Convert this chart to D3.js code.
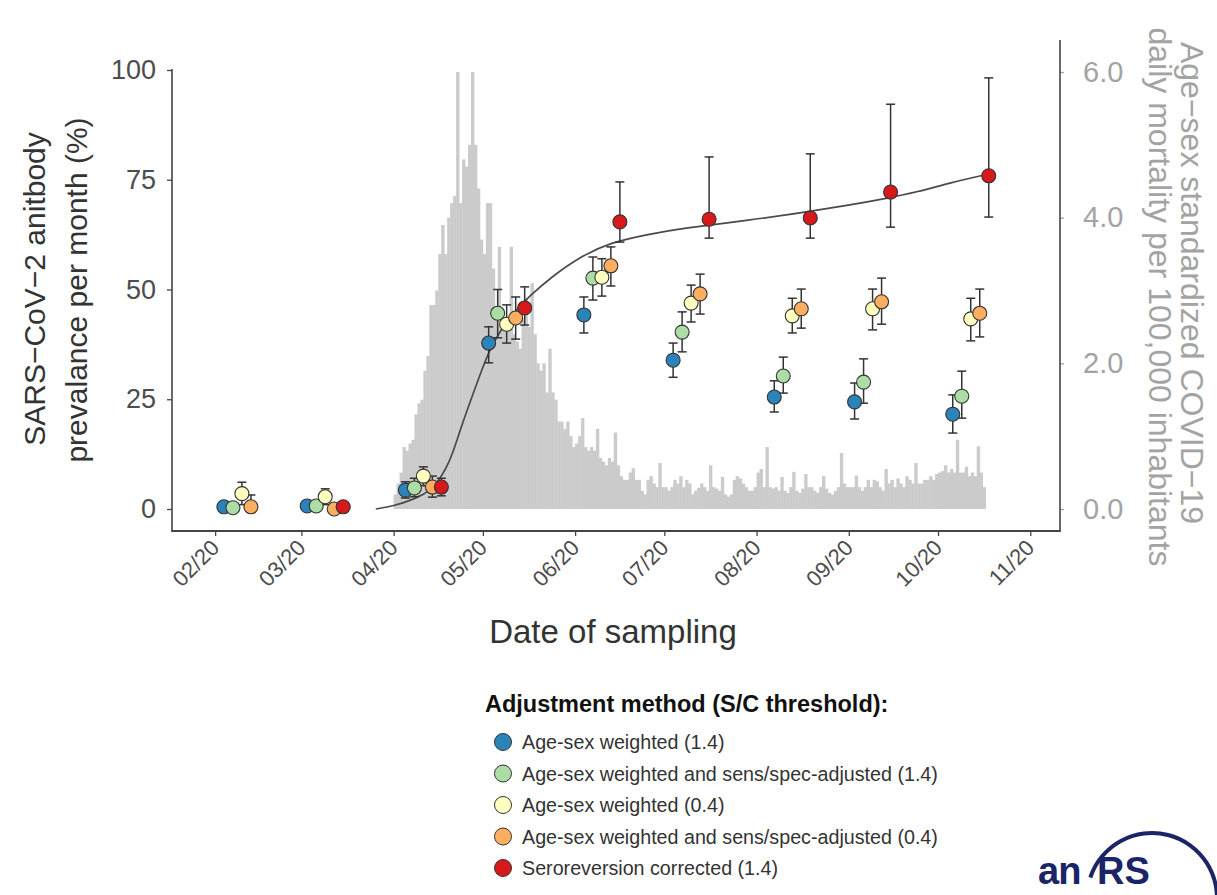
<!DOCTYPE html>
<html>
<head>
<meta charset="utf-8">
<script src="https://cdn.jsdelivr.net/npm/d3@7"></script>
<style>
  body { margin: 0; background: #ffffff; }
  #chart { width: 1217px; height: 895px; }
  text { font-family: "Liberation Sans", Arial, Helvetica, sans-serif; }
</style>
</head>
<body>
<div id="chart"></div>
<script>

// ---- data ----

const seriesNames = [
    "Age-sex weighted (1.4)",
    "Age-sex weighted and sens/spec-adjusted (1.4)",
    "Age-sex weighted (0.4)",
    "Age-sex weighted and sens/spec-adjusted (0.4)",
    "Seroreversion corrected (1.4)"
];

const seriesColors = ["#2b83ba", "#abdda4", "#ffffbf", "#fdae61", "#d7191c"];

// sampling months (centre of each group)
const sampleDates = ["2020-02-10", "2020-03-09", "2020-04-11", "2020-05-09", "2020-06-10",
                     "2020-07-10", "2020-08-13", "2020-09-09", "2020-10-12"];

// prevalence (%) and 95% interval, one array per method
const weighted14      = [0.5, 0.7, 4.3, 37.8, 44.2, 33.9, 25.5, 24.4, 21.6];
const weighted14Low   = [0.0, 0.0, 2.5, 33.3, 40.1, 30.0, 22.1, 20.5, 17.3];
const weighted14High  = [1.5, 1.6, 6.2, 41.5, 48.3, 37.8, 29.2, 28.7, 26.0];

const adjusted14      = [0.3, 0.7, 4.8, 44.6, 52.6, 40.3, 30.3, 28.9, 25.7];
const adjusted14Low   = [0.0, 0.0, 2.8, 39.0, 47.6, 35.8, 26.4, 24.1, 20.7];
const adjusted14High  = [1.2, 1.6, 7.0, 50.0, 57.4, 44.9, 34.6, 34.2, 31.4];

const weighted04      = [3.5, 2.8, 7.5, 42.1, 52.8, 46.9, 44.0, 45.6, 43.3];
const weighted04Low   = [1.0, 1.0, 5.3, 37.8, 48.5, 42.6, 40.1, 40.8, 38.3];
const weighted04High  = [6.1, 4.6, 9.6, 46.5, 57.0, 51.0, 48.0, 50.1, 48.0];

const adjusted04      = [0.5, 0.0, 5.0, 43.5, 55.4, 49.0, 45.6, 47.2, 44.6];
const adjusted04Low   = [0.0, 0.0, 2.7, 38.7, 50.8, 44.4, 41.2, 42.1, 39.2];
const adjusted04High  = [3.2, 1.2, 7.5, 48.3, 59.7, 53.5, 50.1, 52.6, 50.1];

const seroreversion     = [null, 0.5, 5.0, 45.8, 65.4, 66.0, 66.3, 72.2, 75.9];
const seroreversionLow  = [null, 0.0, 3.0, 41.9, 60.8, 61.7, 61.7, 64.2, 66.5];
const seroreversionHigh = [null, 1.5, 7.0, 50.6, 74.5, 80.2, 80.9, 92.2, 98.2];

// modelled cumulative seroprevalence curve
const curveDates = ["2020-03-26", "2020-04-01", "2020-04-07", "2020-04-11", "2020-04-14",
                    "2020-04-20", "2020-04-23", "2020-04-30", "2020-05-04", "2020-05-11",
                    "2020-05-17", "2020-05-24", "2020-06-02", "2020-06-13", "2020-06-26",
                    "2020-07-06", "2020-07-30", "2020-08-18", "2020-09-01", "2020-09-14",
                    "2020-09-24", "2020-10-05", "2020-10-18"];
const curveValues = [0, 0.7, 2.0, 3.4, 4.3, 10.5, 17.5, 30.5, 37.8, 44.6,
                     48.7, 52.8, 57.2, 60.8, 62.6, 63.9, 65.8, 67.7, 69.2, 70.8,
                     72.2, 74.3, 76.3];

// daily age-sex standardized COVID-19 mortality per 100,000, from 1 April 2020
const mortalityStart = "2020-04-01";
const mortality = [
    0.2, 0.35, 0.5, 0.85, 0.8, 0.9, 0.95, 1.3, 1.45, 1.5,
    1.9, 2.1, 2.8, 2.8, 3.0, 3.5, 3.9, 3.5, 4.0, 4.2,
    4.3, 6.0, 4.2, 4.8, 4.7, 5.0, 6.0, 5.0, 4.4, 3.7,
    3.5, 4.2, 4.2, 3.3, 2.7, 3.6, 2.6, 2.5, 2.5, 3.6,
    2.4, 2.3, 2.2, 2.6, 2.9, 2.5, 3.1, 2.4, 2.0, 1.9,
    2.0, 1.6, 2.2, 1.6, 1.5, 1.2, 1.2, 1.1, 1.2, 1.0,
    0.85, 0.9, 1.0, 1.25, 0.85, 0.8, 0.85, 0.8, 1.1, 0.7,
    0.65, 0.6, 0.7, 0.65, 1.05, 0.6, 0.45, 0.4, 0.4, 0.5,
    0.56, 0.4, 0.4, 0.25, 0.2, 0.4, 0.45, 0.35, 0.3, 0.63,
    0.3, 0.3, 0.25, 0.3, 0.4, 0.35, 0.45, 0.3, 0.4, 0.35,
    0.2, 0.25, 0.29, 0.35, 0.3, 0.25, 0.6, 0.3, 0.28, 0.25,
    0.44, 0.2, 0.17, 0.2, 0.4, 0.45, 0.42, 0.35, 0.3, 0.25,
    0.25, 0.3, 0.5, 0.55, 0.3, 0.85, 0.3, 0.28, 0.3, 0.25,
    0.44, 0.25, 0.22, 0.3, 0.51, 0.25, 0.22, 0.28, 0.48, 0.3,
    0.3, 0.25, 0.22, 0.3, 0.45, 0.28, 0.22, 0.2, 0.25, 0.3,
    0.77, 0.35, 0.3, 0.3, 0.3, 0.46, 0.3, 0.25, 0.3, 0.4,
    0.3, 0.4, 0.38, 0.3, 0.25, 0.55, 0.35, 0.4, 0.3, 0.42,
    0.35, 0.3, 0.45, 0.4, 0.35, 0.63, 0.35, 0.35, 0.4, 0.4,
    0.45, 0.4, 0.48, 0.5, 0.52, 0.6, 0.5, 0.55, 0.5, 0.95,
    0.5, 0.5, 0.58, 0.45, 0.5, 0.45, 0.86, 0.5, 0.3
];

const monthTicks = ["2020-02-01", "2020-03-01", "2020-04-01", "2020-05-01", "2020-06-01",
                    "2020-07-01", "2020-08-01", "2020-09-01", "2020-10-01", "2020-11-01"];
const leftTicks = [0, 25, 50, 75, 100];
const rightTicks = [0, 2, 4, 6];


//1. SVG CANVAS

const width = 1217;
const height = 895;

const svg = d3.select("#chart")
    .append("svg")
    .attr("width", width)
    .attr("height", height);

const parse = d3.timeParse("%Y-%m-%d");

const panel = { left: 172, right: 1060, bottom: 531, rightTop: 40 };


//2. SCALES

const xScale = d3.scaleTime()
    .domain([new Date(2020, 0, 17, 12), new Date(2020, 10, 11)])
    .range([panel.left, panel.right]);

const yScale = d3.scaleLinear()
    .domain([0, 100])
    .range([509, 70]);

const yRight = d3.scaleLinear()
    .domain([0, 6])
    .range([509, 72]);

const dodge = d3.scalePoint()
    .domain(seriesNames)
    .range([-18, 18]);


//3. MORTALITY BARS (right axis)

const start = parse(mortalityStart);
const barData = mortality.map(function(v, i) {
    return { date: d3.timeDay.offset(start, i), value: v };
});

svg.append("g")
    .selectAll("rect")
    .data(barData)
    .enter()
    .append("rect")
        .attr("x", function(d) { return xScale(d.date); })
        .attr("y", function(d) { return yRight(d.value); })
        .attr("width", function(d) { return xScale(d3.timeDay.offset(d.date, 1)) - xScale(d.date) + 0.4; })
        .attr("height", function(d) { return yRight(0) - yRight(d.value); })
        .attr("fill", "#cbcbcb");


//4. AXES

const axisColor = "#444444";
const rightColor = "#a3a3a3";

const yAxis = svg.append("g")
    .attr("transform", `translate(${panel.left},0)`)
    .call(d3.axisLeft(yScale).tickValues(leftTicks).tickSize(5).tickPadding(11));

yAxis.select(".domain").remove();
yAxis.selectAll(".tick line").attr("stroke", axisColor).attr("stroke-width", 1.3);
yAxis.selectAll(".tick text")
    .attr("fill", "#4d4d4d")
    .style("font-size", "27px");

const rAxis = svg.append("g")
    .attr("transform", `translate(${panel.right},0)`)
    .call(d3.axisRight(yRight).tickValues(rightTicks).tickFormat(d3.format(".1f")).tickSize(4).tickPadding(19));

rAxis.select(".domain").remove();
rAxis.selectAll(".tick line").attr("stroke", rightColor).attr("stroke-width", 1.3);
rAxis.selectAll(".tick text")
    .attr("fill", rightColor)
    .style("font-size", "29px");

const xAxis = svg.append("g")
    .attr("transform", `translate(0,${panel.bottom})`)
    .call(d3.axisBottom(xScale)
        .tickValues(monthTicks.map(parse))
        .tickFormat(d3.timeFormat("%m/%y"))
        .tickSize(5));

xAxis.select(".domain").remove();
xAxis.selectAll(".tick line").attr("stroke", axisColor).attr("stroke-width", 1.3);
xAxis.selectAll(".tick text")
    .attr("fill", "#4d4d4d")
    .style("font-size", "22px")
    .attr("text-anchor", "end")
    .attr("dy", null)
    .attr("y", null)
    .attr("transform", "translate(5,18) rotate(-45)");

// axis lines
svg.append("line")
    .attr("x1", panel.left).attr("x2", panel.left)
    .attr("y1", yScale(100) - 1).attr("y2", panel.bottom)
    .attr("stroke", axisColor).attr("stroke-width", 1.6);

svg.append("line")
    .attr("x1", panel.right).attr("x2", panel.right)
    .attr("y1", panel.rightTop).attr("y2", panel.bottom)
    .attr("stroke", axisColor).attr("stroke-width", 1.6);

svg.append("line")
    .attr("x1", panel.left - 0.8).attr("x2", panel.right + 0.8)
    .attr("y1", panel.bottom).attr("y2", panel.bottom)
    .attr("stroke", axisColor).attr("stroke-width", 2);


//5. CURVE

const curveData = curveDates.map(function(d, i) {
    return { date: parse(d), value: curveValues[i] };
});

const line = d3.line()
    .x(function(d) { return xScale(d.date); })
    .y(function(d) { return yScale(d.value); })
    .curve(d3.curveBasis);

svg.append("path")
    .datum(curveData)
    .attr("d", line)
    .attr("fill", "none")
    .attr("stroke", "#4a4a4a")
    .attr("stroke-width", 1.7);


//6. POINTS WITH ERROR BARS

const series = [
    [weighted14, weighted14Low, weighted14High],
    [adjusted14, adjusted14Low, adjusted14High],
    [weighted04, weighted04Low, weighted04High],
    [adjusted04, adjusted04Low, adjusted04High],
    [seroreversion, seroreversionLow, seroreversionHigh]
];

let points = [];
series.forEach(function(s, si) {
    sampleDates.forEach(function(d, i) {
        if (s[0][i] === null) return;
        points.push({
            name: seriesNames[si],
            color: seriesColors[si],
            date: parse(d),
            value: s[0][i],
            low: s[1][i],
            high: s[2][i]
        });
    });
});

function px(d) { return xScale(d.date) + dodge(d.name); }

const errGroup = svg.append("g")
    .attr("stroke", "#333333")
    .attr("stroke-width", 1.5);

points.forEach(function(d) {
    const g = errGroup.append("g");
    g.append("line")
        .attr("x1", px(d)).attr("x2", px(d))
        .attr("y1", yScale(d.high)).attr("y2", yScale(d.low));
    g.append("line")
        .attr("x1", px(d) - 4.5).attr("x2", px(d) + 4.5)
        .attr("y1", yScale(d.high)).attr("y2", yScale(d.high));
    g.append("line")
        .attr("x1", px(d) - 4.5).attr("x2", px(d) + 4.5)
        .attr("y1", yScale(d.low)).attr("y2", yScale(d.low));
});

svg.append("g")
    .selectAll("circle")
    .data(points)
    .enter()
    .append("circle")
        .attr("cx", px)
        .attr("cy", function(d) { return yScale(d.value); })
        .attr("r", 7)
        .attr("fill", function(d) { return d.color; })
        .attr("stroke", "#333333")
        .attr("stroke-width", 1.1);


//7. AXIS TITLES

svg.append("text")
    .attr("transform", "rotate(-90)")
    .attr("x", -289)
    .attr("y", 45)
    .attr("text-anchor", "middle")
    .attr("fill", "#333333")
    .style("font-size", "30px")
    .text("SARS\u2212CoV\u22122 anitbody");

svg.append("text")
    .attr("transform", "rotate(-90)")
    .attr("x", -290)
    .attr("y", 87)
    .attr("text-anchor", "middle")
    .attr("fill", "#333333")
    .style("font-size", "30px")
    .text("prevalance per month (%)");

svg.append("text")
    .attr("transform", "rotate(90)")
    .attr("x", 283)
    .attr("y", -1181)
    .attr("text-anchor", "middle")
    .attr("fill", rightColor)
    .style("font-size", "32px")
    .text("Age\u2212sex standardized COVID\u221219");

svg.append("text")
    .attr("transform", "rotate(90)")
    .attr("x", 297)
    .attr("y", -1149)
    .attr("text-anchor", "middle")
    .attr("fill", rightColor)
    .style("font-size", "32px")
    .text("daily mortality per 100,000 inhabitants");

svg.append("text")
    .attr("x", 613)
    .attr("y", 643)
    .attr("text-anchor", "middle")
    .attr("fill", "#333333")
    .style("font-size", "33px")
    .text("Date of sampling");


//8. LEGEND

const legend = svg.append("g")
    .attr("transform", "translate(485,0)");

legend.append("text")
    .attr("x", 0)
    .attr("y", 712)
    .attr("fill", "#111111")
    .style("font-size", "23.5px")
    .style("font-weight", "bold")
    .text("Adjustment method (S/C threshold):");

const legendY = d3.scalePoint()
    .domain(seriesNames)
    .range([742, 868]);

const items = legend.selectAll(".item")
    .data(seriesNames)
    .enter()
    .append("g")
    .attr("transform", function(d) { return `translate(0,${legendY(d)})`; });

items.append("circle")
    .attr("cx", 18)
    .attr("cy", 0)
    .attr("r", 8.5)
    .attr("fill", function(d, i) { return seriesColors[i]; })
    .attr("stroke", "#333333")
    .attr("stroke-width", 1);

items.append("text")
    .attr("x", 37)
    .attr("y", 7)
    .attr("fill", "#333333")
    .style("font-size", "19.7px")
    .text(function(d) { return d; });


//9. LOGO

const logo = svg.append("g").attr("fill", "#1b2466");

logo.append("path")
    .attr("d", d3.arc()({ innerRadius: 63, outerRadius: 67, startAngle: -1.25, endAngle: 1.75 }))
    .attr("transform", "translate(1152,898)");

logo.append("text")
    .attr("x", 1038)
    .attr("y", 884)
    .style("font-size", "38px")
    .style("font-weight", "bold")
    .style("letter-spacing", "-1px")
    .text("an");

logo.append("text")
    .attr("x", 1097)
    .attr("y", 884)
    .style("font-size", "38px")
    .style("font-weight", "bold")
    .text("RS");

</script>
</body>
</html>
